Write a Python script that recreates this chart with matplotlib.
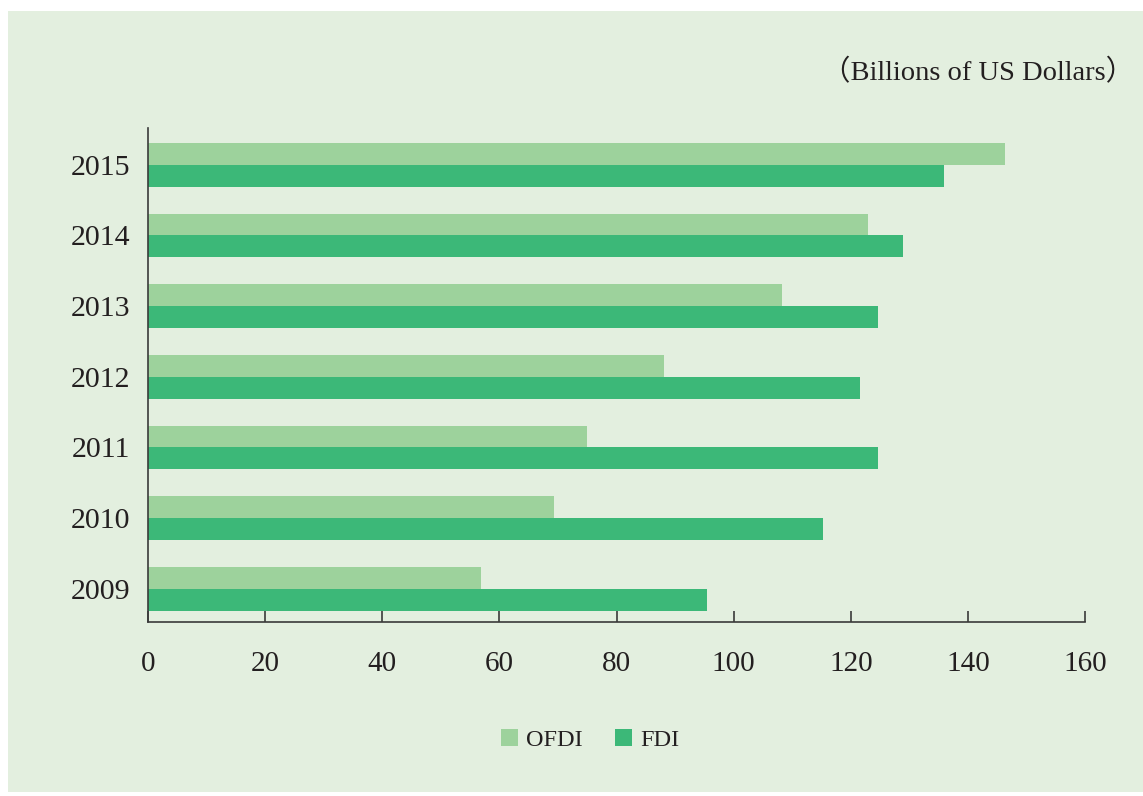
import matplotlib
matplotlib.use("Agg")
import matplotlib.pyplot as plt
from matplotlib.patches import Rectangle, Patch
import numpy as np

years = ["2009", "2010", "2011", "2012", "2013", "2014", "2015"]
ofdi = [56.9, 69.3, 75.0, 88.1, 108.3, 122.9, 146.3]
fdi = [95.5, 115.3, 124.7, 121.6, 124.7, 128.9, 135.9]

BG = "#e3efdf"
C_OFDI = "#9dd29c"
C_FDI = "#3cb878"
TXT = "#231f20"
FONT = ["Liberation Serif", "Noto Sans CJK SC"]

plt.rcParams["font.family"] = FONT

fig = plt.figure(figsize=(11.43, 7.96), dpi=100, facecolor="white")
fig.patches.append(Rectangle((8 / 1143, 4 / 796), 1 - 8 / 1143, 1 - 15 / 796,
                             transform=fig.transFigure, facecolor=BG,
                             edgecolor="none", zorder=-10))

ax = fig.add_axes([148 / 1143, 1 - 622 / 796, 937 / 1143, 494 / 796])
ax.set_facecolor("none")
ax.set_zorder(5)

y = np.arange(len(years))
h = 0.31
ax.barh(y + h / 2, ofdi, height=h, color=C_OFDI, label="OFDI")
ax.barh(y - h / 2, fdi, height=h, color=C_FDI, label="FDI")

ax.set_xlim(0, 160)
ax.set_ylim(-0.47, 6.52)
ax.set_xticks(range(0, 161, 20))
ax.set_yticks(y)
ax.set_yticklabels(years)

for s in ["top", "right"]:
    ax.spines[s].set_visible(False)
for s in ["left", "bottom"]:
    ax.spines[s].set_color("#3a3a3a")
    ax.spines[s].set_linewidth(1.2)

ax.tick_params(axis="x", direction="in", length=8, width=1.2, color="#3a3a3a",
               labelsize=21, labelcolor=TXT, pad=21)
ax.tick_params(axis="y", length=0, labelsize=21.5, labelcolor=TXT, pad=13)

fig.text(1134 / 1143, 1 - 73 / 796, "（Billions of US Dollars）", ha="right",
         va="center", fontsize=20.5, color=TXT, family=FONT, zorder=10)

handles = [Patch(facecolor=C_OFDI, label="OFDI"), Patch(facecolor=C_FDI, label="FDI")]
fig.legend(handles=handles, loc="center", bbox_to_anchor=(590 / 1143, 1 - 740 / 796),
           ncol=2, frameon=False, fontsize=17.5, handlelength=0.7, handleheight=0.7,
           handletextpad=0.35, columnspacing=1.3, labelcolor=TXT)

fig.savefig("out.png", dpi=100, facecolor="white")
